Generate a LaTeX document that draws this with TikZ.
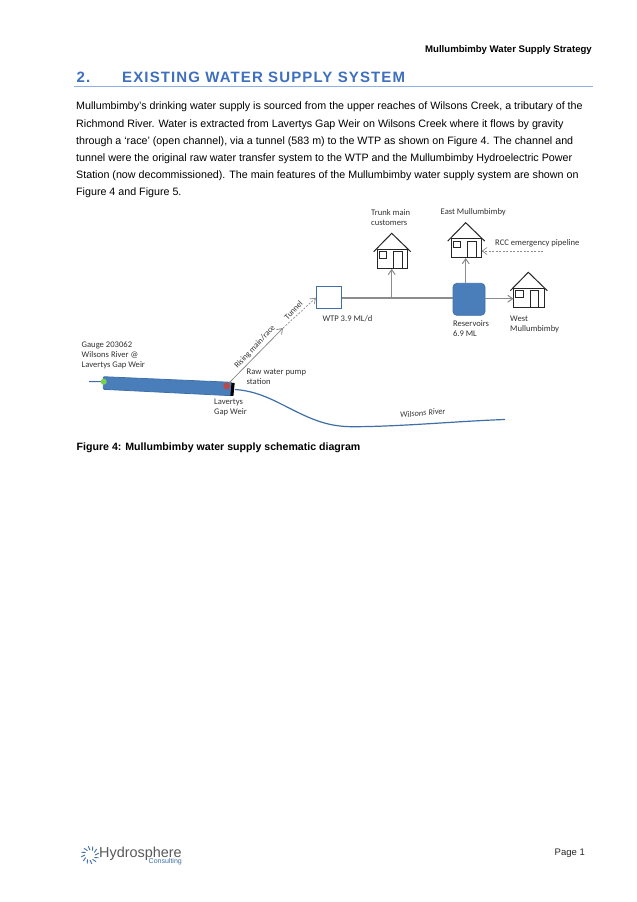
\documentclass[tikz,border=0pt]{standalone}
\usepackage{fontspec}
\setmainfont{Liberation Sans}
\newfontfamily\diafont{Carlito}
\usetikzlibrary{arrows.meta}
\definecolor{bluefill}{HTML}{4A7EBB}
\definecolor{blueedge}{HTML}{3F6FA8}
\definecolor{headblue}{HTML}{3F6FBF}
\definecolor{rulegray}{HTML}{8C8C8C}
\definecolor{ruleblue}{HTML}{8FAFE8}
\tikzset{
  x=1pt,y=-1pt,
  lab/.style={font=\diafont\fontsize{8.6}{10.2}\selectfont,text=black!80,align=left,anchor=north west,inner sep=0pt},
  rot/.style={font=\diafont\fontsize{8.2}{10}\selectfont,text=black!80,inner sep=0pt,rotate=47},
  body/.style={font=\fontsize{10.7}{17.2}\selectfont,anchor=north west,inner sep=0pt,align=left},
  conn/.style={rulegray,line width=1pt,-{Straight Barb[length=5pt,width=7pt]}},
  dashconn/.style={conn,dash pattern=on 2pt off 1.5pt,line width=.7pt},
  housepart/.style={draw=black!85,line width=1pt,fill=white},
  house/.pic={
    \path[housepart] (-14.7,15.7) rectangle (16,35);
    \path[housepart] (-12.4,18.4) rectangle (-5,25);
    \path[housepart] (2,18.4) rectangle (10.6,35);
    \draw[black!85,line width=1pt] (-18,18.4) -- (0,0) -- (19,18.4);
  }
}
\begin{document}
\begin{tikzpicture}
\useasboundingbox (0,0) rectangle (637,902);
\fill[white] (0,0) rectangle (637,902);

\node[font=\bfseries\fontsize{9.6}{11}\selectfont,anchor=east,inner sep=0pt] (hdr) at (592,50) {Mullumbimby Water Supply Strategy};
\node[font=\bfseries\fontsize{15}{18}\selectfont,text=headblue,anchor=west,inner sep=0pt] (num) at (76.5,77) {\addfontfeatures{LetterSpace=7}2.};
\node[font=\bfseries\fontsize{15}{18}\selectfont,text=headblue,anchor=west,inner sep=0pt] (ttl) at (122,77) {\addfontfeatures{LetterSpace=7.5}EXISTING WATER SUPPLY SYSTEM};
\draw[ruleblue,line width=1pt] (74,86.7) -- (593,86.7);

\node[body] (para) at (76,102) {Mullumbimby’s drinking water supply is sourced from the upper reaches of Wilsons Creek, a tributary of the\\
Richmond River. Water is extracted from Lavertys Gap Weir on Wilsons Creek where it flows by gravity\\
through a ‘race’ (open channel), via a tunnel (583 m) to the WTP as shown on Figure 4. The channel and\\
tunnel were the original raw water transfer system to the WTP and the Mullumbimby Hydroelectric Power\\
Station (now decommissioned). The main features of the Mullumbimby water supply system are shown on\\
Figure 4 and Figure 5.};

% houses
\pic at (391.7,233.3) {house};
\pic at (465.7,222.7) {house};
\pic at (528.3,272.3) {house};
\coordinate (trunkin) at (391.7,268.8);
\coordinate (eastin) at (465.7,258);
\coordinate (westin) at (513.5,298.7);
\coordinate (eastside) at (481.5,251);
\coordinate (rccend) at (543,251);

% plant
\node[draw=blueedge,line width=1pt,fill=white,minimum width=25pt,minimum height=21.5pt,inner sep=0pt] (wtp) at (329,297.7) {};
\node[draw=blueedge,line width=.8pt,fill=bluefill,rounded corners=4pt,minimum width=32pt,minimum height=32pt,inner sep=0pt] (res) at (469,299.3) {};

\coordinate (tee) at (391.7,298);
\draw[rulegray,line width=1.4pt] (wtp.east |- tee) -- (res.west |- tee);
\draw[conn] (tee) -- (trunkin);
\draw[conn] (res.north -| eastin) -- (eastin);
\draw[conn] (res.east |- westin) -- (westin);
\draw[dashconn] (rccend) -- (eastside);

% dam
\coordinate (inflow) at (89,381.5);
\coordinate (gauge) at (103.7,381.7);
\coordinate (pump) at (229,383);
\coordinate (mid) at (283,328);
\draw[blueedge,line width=1pt] (inflow) -- (gauge);
\fill[bluefill,draw=blueedge,line width=.8pt,rounded corners=1pt] (103.3,376.7) -- (231.7,382.3) -- (231.7,395.7) -- (103.3,389.3) -- cycle;
\fill[black] (231.5,382.7) -- (234.7,382.9) -- (233.4,396) -- (230.4,395.8) -- cycle;
\node[circle,fill=green!50!olive!70!white,minimum size=6pt,inner sep=0pt] (gdot) at (gauge) {};
\node[circle,fill=red!60!black!70!white,minimum size=7pt,inner sep=0pt] (rdot) at (226.7,386) {};
\draw[blueedge,line width=1.2pt] (235,389.5) .. controls (258,391) and (275,401) .. (293,410) .. controls (315,421) and (330,426.7) .. (353,426.7) .. controls (400,426.7) and (460,421) .. (505,419.5);

\draw[conn,line width=.8pt] (pump) -- (mid);
\draw[dashconn] (mid) -- (wtp.west);

% labels
\node[lab] (l1) at (81.5,341.5) {Gauge 203062\\Wilsons River @\\Lavertys Gap Weir};
\node[lab] (l2) at (246.5,369) {Raw water pump\\station};
\node[lab] (l3) at (214,398.5) {Lavertys\\Gap Weir};
\node[lab] (l4) at (322.3,315) {WTP 3.9 ML/d};
\node[lab] (l5) at (452.8,320) {Reservoirs\\6.9 ML};
\node[lab] (l6) at (510,315.5) {West\\Mullumbimby};
\node[lab] (l7) at (371,209.5) {Trunk main\\customers};
\node[lab] (l8) at (440.5,208) {East Mullumbimby};
\node[lab] (l9) at (495,239.5) {RCC emergency pipeline};
\node[rot] (l10) at (255,347) {Rising main/race};
\node[rot] (l11) at (293.5,310) {Tunnel};
\node[font=\diafont\itshape\fontsize{8.4}{10}\selectfont,text=black!80,rotate=5,inner sep=0pt] (l12) at (422.7,413) {Wilsons River};

\node[font=\bfseries\fontsize{10.6}{12}\selectfont,anchor=west,inner sep=0pt] (cap) at (76.5,448) {Figure 4: Mullumbimby water supply schematic diagram};

% footer
\foreach \a in {0,30,...,330}
  \draw[blueedge,line width=.9pt] ({90+5*cos(\a)},{855-5*sin(\a)}) -- ({90+9*cos(\a+12)},{855-9*sin(\a+12)});
\node[font=\fontsize{14.4}{15}\selectfont,text=black!65,anchor=west,inner sep=0pt] (hs) at (99,854) {Hydrosphere};
\node[font=\fontsize{7}{8}\selectfont,text=blueedge,anchor=east,inner sep=0pt] (cs) at (182,862) {Consulting};
\node[font=\fontsize{9.5}{11}\selectfont,text=black!85,anchor=east,inner sep=0pt] (pg) at (585,853) {Page 1};
\end{tikzpicture}
\end{document}
